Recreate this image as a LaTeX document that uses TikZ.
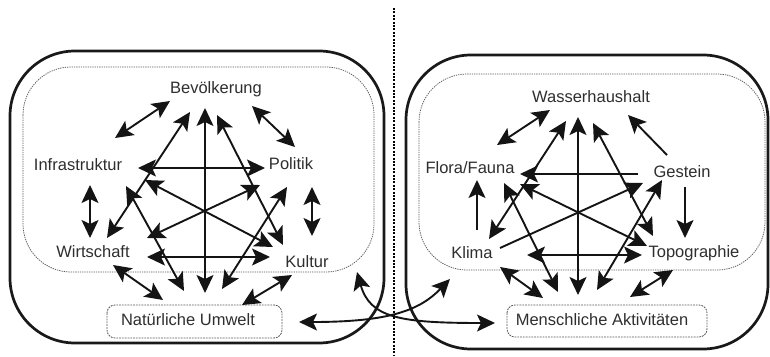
\documentclass[tikz,border=0pt]{standalone}
\usepackage{fontspec}
\setmainfont{Liberation Sans}
\usetikzlibrary{arrows.meta}
\begin{document}
\begin{tikzpicture}[x=1pt,y=-1pt,
  outerbox/.style={line width=2.7pt, draw=black!90, rounded corners=65pt},
  innerbox/.style={line width=0.75pt, draw=black!65, dash pattern=on 1.3pt off 1pt, rounded corners=48pt},
  smallbox/.style={line width=0.85pt, draw=black!65, dash pattern=on 1.8pt off 1pt, rounded corners=8pt},
  conn/.style={line width=1.9pt, draw=black!92},
  tip/.tip={Stealth[length=18pt,width=17pt,inset=4pt]},
  dbl/.style={conn, tip-tip},
  sgl/.style={conn, -tip},
  lbl/.style={font=\fontsize{16.5}{19}\selectfont, text=black!82, inner sep=0pt, anchor=base}
]
\useasboundingbox (0,0) rectangle (770,356);

% boxes
\draw[outerbox] (10,51) rectangle (384,343);
\draw[outerbox] (406,55) rectangle (768,349);
\draw[innerbox] (23,67) rectangle (374,272);
\draw[innerbox] (419,74) rectangle (765,270);
\draw[smallbox] (107,305) rectangle (282,338);
\draw[smallbox] (507,305) rectangle (707,337);

% separator
\coordinate (sepa) at (394,8);
\coordinate (sepb) at (394,356);
\draw[line width=2.8pt, draw=black, dash pattern=on 2pt off 1.4pt] (sepa) -- (sepb);

% labels
\node[lbl] (bev) at (216,93) {Bevölkerung};
\node[lbl] (inf) at (78,170) {Infrastruktur};
\node[lbl] (pol) at (291,169) {Politik};
\node[lbl] (wir) at (93,257) {Wirtschaft};
\node[lbl] (kul) at (307,267) {Kultur};
\node[lbl] (nat) at (188,325) {Natürliche Umwelt};
\node[lbl] (was) at (591,102) {Wasserhaushalt};
\node[lbl] (flo) at (470,173) {Flora/Fauna};
\node[lbl] (ges) at (682,177) {Gestein};
\node[lbl] (kli) at (472,258) {Klima};
\node[lbl] (top) at (694,257) {Topographie};
\node[lbl] (men) at (602,325) {Menschliche Aktivitäten};

% double-headed connectors
\foreach \n/\ax/\ay/\bx/\by in {
  la/170/101/115/138, lb/252/106/295/147, lc/90/185/90/238, ld/312/187/312/236,
  le/113/265/163/300, lf/292/275/242/305, lg/205/108/205/293, lh/190/112/107/238,
  li/217/115/283/245, lj/138/168/265/168, lk/147/257/270/257, ll/145/180/273/247,
  lm/147/238/260/185, ln/126/186/184/291, lo/287/187/222/289,
  ra/550/110/497/145, rb/578/117/578/295, rc/566/121/489/239, rd/593/123/653/236,
  re/527/255/642/255, rf/520/184/647/246, rg/504/183/558/292, rh/662/180/597/290,
  ri/500/267/543/298, rj/673/270/630/297}
{
  \coordinate (\n a) at (\ax,\ay);
  \coordinate (\n b) at (\bx,\by);
  \draw[dbl] (\n a) -- (\n b);
}

% single-headed connectors
\foreach \n/\ax/\ay/\bx/\by in {
  sa/667/155/628/115, sb/685/187/685/238, sc/477/230/477/180,
  sd/638/174/520/174, se/500/248/643/183}
{
  \coordinate (\n a) at (\ax,\ay);
  \coordinate (\n b) at (\bx,\by);
  \draw[sgl] (\n a) -- (\n b);
}

% crossing curves between the panels
\coordinate (ca1) at (357,272);
\coordinate (ca2) at (495,323);
\draw[dbl] (ca1) .. controls (370,318) and (400,323) .. (ca2);
\coordinate (cb1) at (299,322);
\coordinate (cb2) at (450,279);
\draw[dbl] (cb1) .. controls (390,322) and (420,310) .. (cb2);
\end{tikzpicture}
\end{document}
